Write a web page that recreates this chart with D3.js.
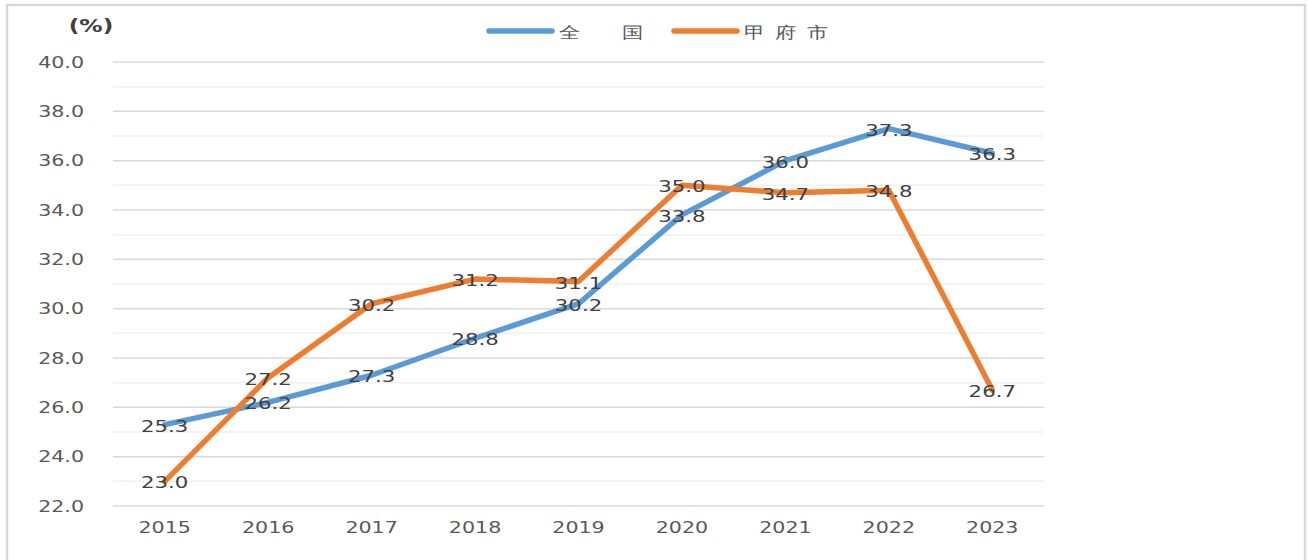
<!DOCTYPE html>
<html>
<head>
<meta charset="utf-8">
<script src="https://cdn.jsdelivr.net/npm/d3@7"></script>
<style>
  html, body { margin: 0; padding: 0; background: #fff; }
  svg { display: block; }
  text { font-family: "DejaVu Sans", Verdana, sans-serif; }
</style>
</head>
<body>
<script>
// data
let years = ['2015', '2016', '2017', '2018', '2019', '2020', '2021', '2022', '2023']
let seriesNames = ['全　国', '甲府市']
let zenkoku = [25.3, 26.2, 27.3, 28.8, 30.2, 33.8, 36.0, 37.3, 36.3]
let kofu = [23.0, 27.2, 30.2, 31.2, 31.1, 35.0, 34.7, 34.8, 26.7]
let majorTicks = [22, 24, 26, 28, 30, 32, 34, 36, 38, 40]
let minorTicks = [23, 25, 27, 29, 31, 33, 35, 37, 39]
let colors = ['#5B9BD5', '#ED7D31']

let width = 1308, height = 560
let sx = 1.33 // the source picture is stretched sideways

let svg = d3.select('body').append('svg')
  .attr('width', width).attr('height', height)

// outer frame
svg.append('rect')
  .attr('x', 7).attr('y', 5)
  .attr('width', 1298).attr('height', 600)
  .attr('fill', '#fff')
  .attr('stroke', '#d9d9d9').attr('stroke-width', 2.5)

let x = d3.scaleBand().domain(years).range([113, 1044])
let y = d3.scaleLinear().domain([22, 40]).range([506, 62])

let stretched = (sel, px, py) => sel.attr('transform', `translate(${px},${py}) scale(${sx},1)`)

// grid
svg.append('g').selectAll('line').data(minorTicks).enter()
  .append('line')
  .attr('x1', 113).attr('x2', 1044)
  .attr('y1', d => y(d)).attr('y2', d => y(d))
  .attr('stroke', '#f0f0f0').attr('stroke-width', 1.5)

svg.append('g').selectAll('line').data(majorTicks).enter()
  .append('line')
  .attr('x1', 113).attr('x2', 1044)
  .attr('y1', d => y(d)).attr('y2', d => y(d))
  .attr('stroke', '#d9d9d9').attr('stroke-width', 1.5)

// y labels
svg.append('g').selectAll('text').data(majorTicks).enter()
  .append('text')
  .each(function (d) { stretched(d3.select(this), 84, y(d) + 5.5) })
  .attr('text-anchor', 'end')
  .attr('font-size', 15.5)
  .attr('fill', '#595959')
  .text(d => d.toFixed(1))

// x labels
svg.append('g').selectAll('text').data(years).enter()
  .append('text')
  .each(function (d) { stretched(d3.select(this), x(d) + x.bandwidth() / 2, 533) })
  .attr('text-anchor', 'middle')
  .attr('font-size', 15.5)
  .attr('fill', '#595959')
  .text(d => d)

// unit
svg.append('text')
  .call(s => stretched(s, 91, 32))
  .attr('text-anchor', 'middle')
  .attr('font-size', 17.5)
  .attr('font-weight', 'bold')
  .attr('fill', '#404040')
  .text('(%)')

let cx = d => x(d) + x.bandwidth() / 2
let line = d3.line()
  .x((d, i) => cx(years[i]))
  .y(d => y(d))

let allSeries = [zenkoku, kofu]
allSeries.forEach((vals, k) => {
  svg.append('path')
    .datum(vals)
    .attr('d', line)
    .attr('fill', 'none')
    .attr('stroke', colors[k])
    .attr('stroke-width', 5.5)
    .attr('stroke-linejoin', 'round')
    .attr('stroke-linecap', 'round')
})

allSeries.forEach((vals) => {
  svg.append('g').selectAll('text').data(vals).enter()
    .append('text')
    .each(function (d, i) { stretched(d3.select(this), cx(years[i]), y(d) + 7) })
    .attr('text-anchor', 'middle')
    .attr('font-size', 16)
    .attr('fill', '#404040')
    .text(d => d.toFixed(1))
})

// legend
let legendX = [489, 674]
seriesNames.forEach((name, k) => {
  svg.append('line')
    .attr('x1', legendX[k]).attr('x2', legendX[k] + 63)
    .attr('y1', 31).attr('y2', 31)
    .attr('stroke', colors[k])
    .attr('stroke-width', 5.5)
    .attr('stroke-linecap', 'round')
  svg.append('text')
    .call(s => stretched(s, legendX[k] + 70, 37.5))
    .attr('font-family', '"Noto Sans CJK JP", sans-serif')
    .attr('font-size', 16)
    .attr('letter-spacing', 7.5)
    .attr('fill', '#595959')
    .text(name)
})
</script>
</body>
</html>
